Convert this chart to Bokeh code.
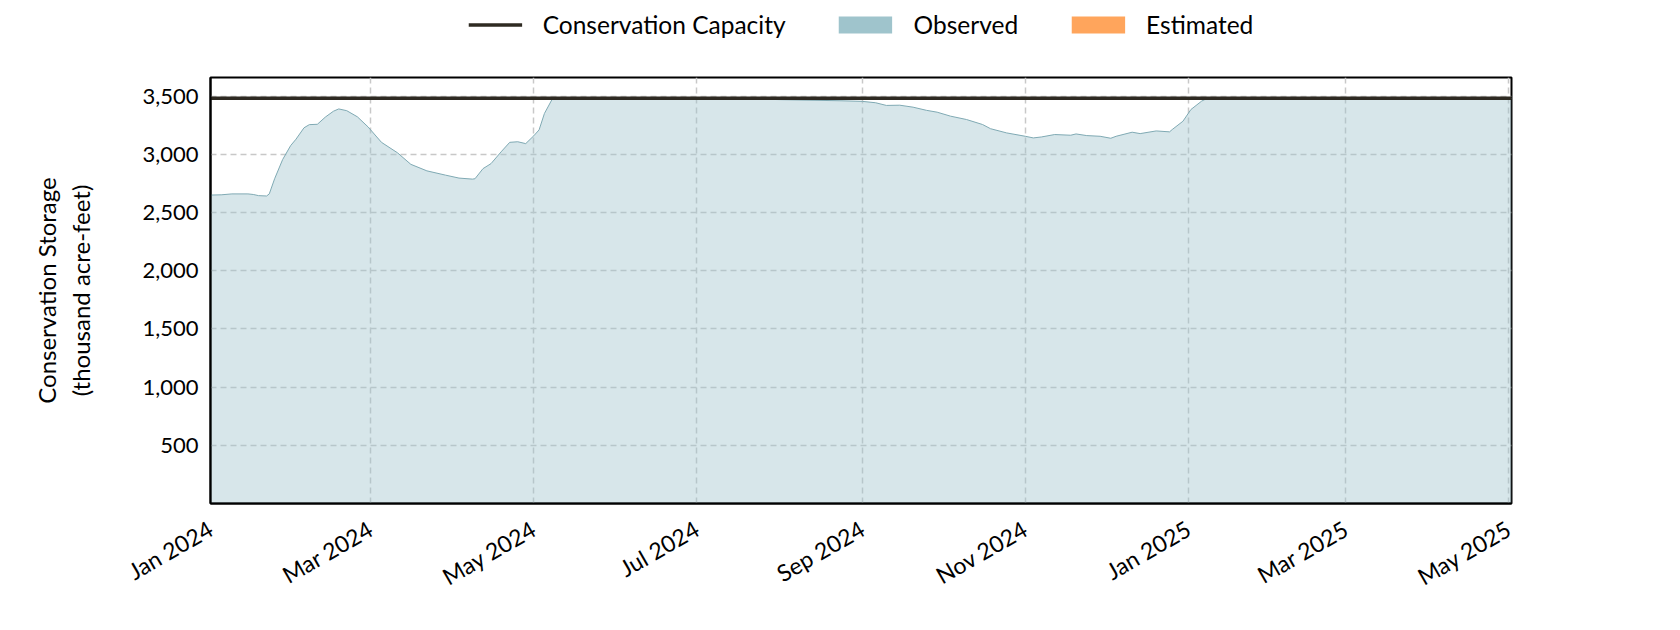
import math
import numpy as np
import pandas as pd
from bokeh.plotting import figure
from bokeh.layouts import column
from bokeh.models import (ColumnDataSource, Range1d, FixedTicker, NumeralTickFormatter,
                          DatetimeTickFormatter, Legend, LegendItem)
from bokeh.embed import file_html
from bokeh.resources import INLINE

# ---------------- data ----------------
obs_dates = [
    "2024-01-01", "2024-01-05", "2024-01-09", "2024-01-15", "2024-01-17", "2024-01-19",
    "2024-01-22", "2024-01-23", "2024-01-25", "2024-01-28", "2024-01-31", "2024-02-02",
    "2024-02-05", "2024-02-07", "2024-02-10", "2024-02-13", "2024-02-16", "2024-02-18",
    "2024-02-21", "2024-02-25", "2024-02-29", "2024-03-05", "2024-03-11", "2024-03-16",
    "2024-03-22", "2024-03-29", "2024-04-03", "2024-04-08", "2024-04-09", "2024-04-12",
    "2024-04-15", "2024-04-19", "2024-04-22", "2024-04-25", "2024-04-28", "2024-05-01",
    "2024-05-03", "2024-05-05", "2024-05-08", "2024-06-15", "2024-07-20", "2024-08-01",
    "2024-08-24", "2024-09-01", "2024-09-06", "2024-09-10", "2024-09-15", "2024-09-20",
    "2024-09-25", "2024-09-29", "2024-10-04", "2024-10-10", "2024-10-16", "2024-10-19",
    "2024-10-25", "2024-11-01", "2024-11-04", "2024-11-07", "2024-11-12", "2024-11-18",
    "2024-11-20", "2024-11-24", "2024-11-29", "2024-12-03", "2024-12-05", "2024-12-11",
    "2024-12-14", "2024-12-20", "2024-12-25", "2024-12-26", "2024-12-30", "2025-01-02",
    "2025-01-06", "2025-01-08", "2025-05-02",
]
obs_values = [
    2650, 2652, 2660, 2660, 2655, 2645,
    2642, 2660, 2790, 2955, 3075, 3130,
    3228, 3255, 3258, 3320, 3370, 3390,
    3375, 3322, 3235, 3103, 3013, 2914,
    2858, 2821, 2796, 2787, 2790, 2877,
    2920, 3027, 3103, 3108, 3092, 3159,
    3210, 3351, 3478, 3480, 3478, 3470,
    3460, 3455, 3443, 3420, 3422, 3405,
    3378, 3362, 3328, 3299, 3256, 3220,
    3184, 3155, 3141, 3149, 3170, 3164,
    3175, 3161, 3155, 3138, 3155, 3190,
    3178, 3201, 3193, 3213, 3284, 3385,
    3457, 3480, 3480,
]
capacity_dates = ["2024-01-01", "2025-05-02"]
capacity_values = [3482, 3482]

tick_dates = ["2024-01-01", "2024-03-01", "2024-05-01", "2024-07-01", "2024-09-01",
              "2024-11-01", "2025-01-01", "2025-03-01", "2025-05-01"]
y_ticks = [500, 1000, 1500, 2000, 2500, 3000, 3500]
x_start, x_end = "2024-01-01", "2025-05-02"
y_start, y_end = 0, 3660

FONT = "Lato"
CAP_COLOR = "#2e2a22"
OBS_COLOR = "#9fc4cc"
EST_COLOR = "#ffa55c"

obs_src = ColumnDataSource(dict(x=pd.to_datetime(obs_dates), y=obs_values))
cap_src = ColumnDataSource(dict(x=pd.to_datetime(capacity_dates), y=capacity_values))

FW, FH = 1301, 426
BL, BR = 210, 150

# ---------------- legend strip ----------------
leg = figure(frame_width=FW, frame_height=48, x_range=Range1d(0, 1), y_range=Range1d(0, 1),
             x_axis_location=None, y_axis_location=None,
             output_backend="svg", toolbar_location=None,
             min_border_left=BL, min_border_right=BR, min_border_top=0, min_border_bottom=0)
leg.outline_line_color = None
leg.grid.visible = False
swatch_src = ColumnDataSource(dict(x=[np.nan], y=[np.nan]))
cap_leg = leg.line(x="x", y="y", source=swatch_src, line_color=CAP_COLOR, line_width=3.5)
obs_leg = leg.line(x="x", y="y", source=swatch_src, line_color=OBS_COLOR, line_width=17,
                   line_cap="butt")
est_leg = leg.line(x="x", y="y", source=swatch_src, line_color=EST_COLOR, line_width=17,
                   line_cap="butt")
legend = Legend(items=[
    LegendItem(label="Conservation Capacity", renderers=[cap_leg]),
    LegendItem(label="Observed", renderers=[obs_leg]),
    LegendItem(label="Estimated", renderers=[est_leg]),
], orientation="horizontal", location="center")
legend.label_text_font = FONT
legend.label_text_font_size = "24.5px"
legend.label_text_color = "black"
legend.glyph_width = 54
legend.glyph_height = 20
legend.label_standoff = 21
legend.spacing = 53
legend.border_line_color = None
legend.background_fill_alpha = 0
legend.margin = 0
legend.padding = 4
leg.add_layout(legend, "center")

# ---------------- main chart ----------------
p = figure(frame_width=FW, frame_height=FH, x_axis_type="datetime",
           x_range=Range1d(pd.Timestamp(x_start), pd.Timestamp(x_end)),
           y_range=Range1d(y_start, y_end),
           output_backend="svg", toolbar_location=None,
           min_border_left=BL, min_border_right=BR, min_border_top=29, min_border_bottom=100)

p.outline_line_color = "black"
p.outline_line_width = 2
p.background_fill_color = "white"
p.border_fill_color = "white"

p.varea(x="x", y1=0, y2="y", source=obs_src, fill_color=OBS_COLOR, fill_alpha=0.42)
p.line(x="x", y="y", source=obs_src, line_color="#7fa9b3", line_width=1)
p.line(x="x", y="y", source=cap_src, line_color=CAP_COLOR, line_width=3.5)

tick_ms = [int(t) for t in (pd.to_datetime(tick_dates).astype("int64") // 10**6)]
p.xaxis.ticker = FixedTicker(ticks=tick_ms)
fmt = "%b %Y"
p.xaxis.formatter = DatetimeTickFormatter(milliseconds=fmt, seconds=fmt, minsec=fmt, minutes=fmt,
                                          hourmin=fmt, hours=fmt, days=fmt, months=fmt, years=fmt)
p.xaxis.major_label_orientation = math.pi / 6
p.yaxis.ticker = FixedTicker(ticks=y_ticks)
p.yaxis.formatter = NumeralTickFormatter(format="0,0")
p.yaxis.axis_label = "Conservation Storage\n(thousand acre-feet)"

for ax in (p.xaxis, p.yaxis):
    ax.major_label_text_font = FONT
    ax.major_label_text_color = "black"
    ax.axis_label_text_font = FONT
    ax.axis_label_text_font_size = "24px"
    ax.axis_label_text_font_style = "normal"
    ax.axis_label_text_color = "black"
    ax.major_tick_line_color = None
    ax.minor_tick_line_color = None
    ax.axis_line_color = "black"
    ax.axis_line_width = 2
p.xaxis.major_label_text_font_size = "23px"
p.yaxis.major_label_text_font_size = "22px"
p.xaxis.major_label_standoff = 17
p.yaxis.major_label_standoff = 6
p.yaxis.axis_label_standoff = 44

for g in (p.xgrid, p.ygrid):
    g.grid_line_color = "#c8c8c8"
    g.grid_line_dash = "6 4"
    g.grid_line_width = 1.5
p.xgrid.ticker = FixedTicker(ticks=tick_ms)
p.ygrid.ticker = FixedTicker(ticks=y_ticks)

open("out.html", "w").write(file_html(column(leg, p), INLINE))
